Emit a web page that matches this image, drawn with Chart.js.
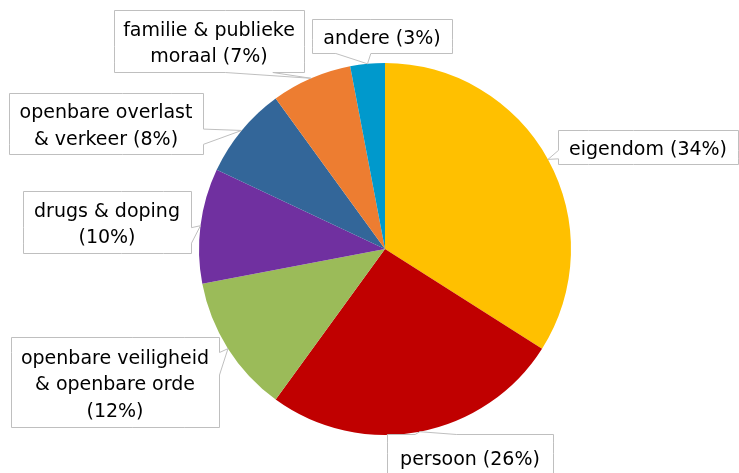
<!DOCTYPE html>
<html>
<head>
<meta charset="utf-8">
<script src="https://cdn.jsdelivr.net/npm/chart.js@4/dist/chart.umd.min.js"></script>
<style>
  html, body { margin: 0; padding: 0; background: #ffffff; }
  #wrap { width: 739px; height: 473px; }
</style>
</head>
<body>
<div id="wrap"><canvas id="c" width="739" height="473"></canvas></div>
<script>
// ---- data ----
const categories = [
  'eigendom',
  'persoon',
  'openbare veiligheid & openbare orde',
  'drugs & doping',
  'openbare overlast & verkeer',
  'familie & publieke moraal',
  'andere'
];
const values = [34, 26, 12, 10, 8, 7, 3];
const colors = ['#FFC000', '#C00000', '#9BBB59', '#7030A0', '#336699', '#ED7D31', '#0099CC'];
// label text lines ({p} is replaced by the value)
const labelLines = [
  ['eigendom ({p}%)'],
  ['persoon ({p}%)'],
  ['openbare veiligheid', '& openbare orde', '({p}%)'],
  ['drugs & doping', '({p}%)'],
  ['openbare overlast', '& verkeer ({p}%)'],
  ['familie & publieke', 'moraal ({p}%)'],
  ['andere ({p}%)']
];
// callout box layout: [left, top, width, height]
const calloutBoxes = [
  [558, 130, 180, 34],
  [387, 434, 166, 46],
  [11, 337, 208, 90],
  [23, 191, 168, 62],
  [9, 93, 194, 61],
  [114, 10, 190, 62],
  [312, 19, 140, 34]
];

const FONT = '19px "DejaVu Sans", Verdana, sans-serif';
const LINE_H = 26.5;

function calloutPath(ctx, l, t, w, h, px, py) {
  const r = l + w, b = t + h;
  const hc = l + w / 2, vc = t + h / 2;
  const dxPos = px - hc, dyPos = py - vc;
  const dq = dxPos * h / w;
  const dz = Math.abs(dyPos) - Math.abs(dq);
  const xg1 = dxPos > 0 ? 7 : 2, xg2 = dxPos > 0 ? 10 : 5;
  const yg1 = dyPos > 0 ? 7 : 2, yg2 = dyPos > 0 ? 10 : 5;
  const x1 = l + w * xg1 / 12, x2 = l + w * xg2 / 12;
  const y1 = t + h * yg1 / 12, y2 = t + h * yg2 / 12;
  const xl = dz > 0 ? l : (dxPos > 0 ? l : px);
  const yl = dz > 0 ? y1 : (dxPos > 0 ? y1 : py);
  const xt = dz > 0 ? (dyPos > 0 ? x1 : px) : x1;
  const yt = dz > 0 ? (dyPos > 0 ? t : py) : t;
  const xr = dz > 0 ? r : (dxPos > 0 ? px : r);
  const yr = dz > 0 ? y1 : (dxPos > 0 ? py : y1);
  const xb = dz > 0 ? (dyPos > 0 ? px : x1) : x1;
  const yb = dz > 0 ? (dyPos > 0 ? py : b) : b;
  ctx.beginPath();
  ctx.moveTo(l, t);
  ctx.lineTo(x1, t); ctx.lineTo(xt, yt); ctx.lineTo(x2, t);
  ctx.lineTo(r, t);
  ctx.lineTo(r, y1); ctx.lineTo(xr, yr); ctx.lineTo(r, y2);
  ctx.lineTo(r, b);
  ctx.lineTo(x2, b); ctx.lineTo(xb, yb); ctx.lineTo(x1, b);
  ctx.lineTo(l, b);
  ctx.lineTo(l, y2); ctx.lineTo(xl, yl); ctx.lineTo(l, y1);
  ctx.closePath();
}

const calloutPlugin = {
  id: 'callouts',
  afterDatasetsDraw(chart) {
    const ctx = chart.ctx;
    const meta = chart.getDatasetMeta(0);
    const vals = chart.data.datasets[0].data;
    ctx.save();
    ctx.font = FONT;
    ctx.textAlign = 'center';
    ctx.textBaseline = 'alphabetic';
    meta.data.forEach((arc, i) => {
      const p = arc.getProps(['x', 'y', 'startAngle', 'endAngle', 'outerRadius'], true);
      const mid = (p.startAngle + p.endAngle) / 2;
      const tx = p.x + Math.cos(mid) * p.outerRadius;
      const ty = p.y + Math.sin(mid) * p.outerRadius;
      const [l, t, w, h] = calloutBoxes[i];
      calloutPath(ctx, l + 0.5, t + 0.5, w, h, tx, ty);
      ctx.fillStyle = '#ffffff';
      ctx.fill();
      ctx.strokeStyle = '#BFBFBF';
      ctx.lineWidth = 1;
      ctx.stroke();
      const lines = labelLines[i].map(s => s.replace('{p}', vals[i]));
      const cx = l + w / 2, cy = t + h / 2;
      const first = cy + 8 - (lines.length - 1) * LINE_H / 2;
      ctx.fillStyle = '#000000';
      lines.forEach((s, k) => ctx.fillText(s, cx, first + k * LINE_H));
    });
    ctx.restore();
  }
};

new Chart(document.getElementById('c'), {
  type: 'pie',
  data: {
    labels: categories,
    datasets: [{
      data: values,
      backgroundColor: colors,
      borderWidth: 0
    }]
  },
  options: {
    responsive: false,
    animation: false,
    layout: { padding: { left: 199, right: 168, top: 63, bottom: 38 } },
    plugins: {
      legend: { display: false },
      tooltip: { enabled: false }
    }
  },
  plugins: [calloutPlugin]
});
</script>
</body>
</html>
